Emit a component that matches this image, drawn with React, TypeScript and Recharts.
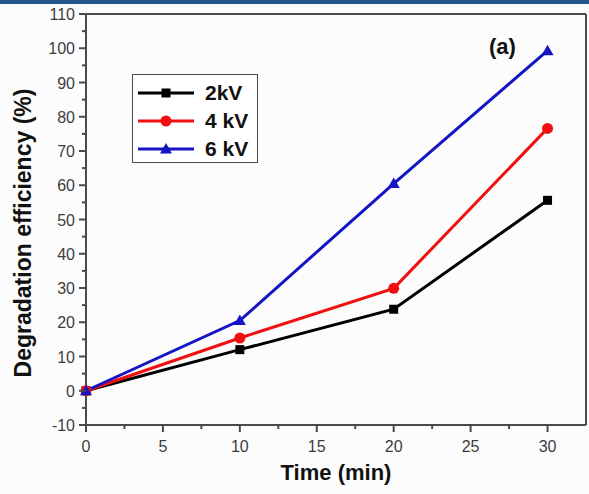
import React from "react";
import {
  LineChart,
  Line,
  XAxis,
  YAxis,
  ReferenceLine,
} from "recharts";

// values
const times = [0, 10, 20, 30];
const kv2 = [0, 12, 23.8, 55.6];
const kv4 = [0, 15.4, 29.9, 76.6];
const kv6 = [0, 20.5, 60.5, 99.3];

const xTicks = [0, 2.5, 5, 7.5, 10, 12.5, 15, 17.5, 20, 22.5, 25, 27.5, 30];
const yTicks = [
  -10, -5, 0, 5, 10, 15, 20, 25, 30, 35, 40, 45, 50, 55, 60, 65, 70, 75, 80,
  85, 90, 95, 100, 105, 110,
];

const series = [
  { key: "kv2", name: "2kV", color: "#000000", shape: "square" },
  { key: "kv4", name: "4 kV", color: "#f01010", shape: "circle" },
  { key: "kv6", name: "6 kV", color: "#1414c4", shape: "triangle" },
];

const data = times.map((t, i) => ({ t, kv2: kv2[i], kv4: kv4[i], kv6: kv6[i] }));

const FONT = "'Liberation Sans', Arial, sans-serif";
const AXIS = "#4a4a4a";
const TICK_TEXT = "#3c3c3c";

function Marker({ cx, cy, shape, color }: any) {
  if (shape === "square")
    return <rect x={cx - 4.5} y={cy - 4.5} width={9} height={9} fill={color} />;
  if (shape === "circle") return <circle cx={cx} cy={cy} r={5.5} fill={color} />;
  return (
    <polygon
      points={`${cx},${cy - 6} ${cx + 6},${cy + 4.5} ${cx - 6},${cy + 4.5}`}
      fill={color}
    />
  );
}

const XTick = (props: any) => {
  const { x, y, payload } = props;
  const major = payload.value % 5 === 0;
  return (
    <g>
      <line x1={x} x2={x} y1={y} y2={y + (major ? 7 : 4)} stroke={AXIS} strokeWidth={2} />
      {major && (
        <text x={x} y={y + 27} textAnchor="middle" fontSize={16} fill={TICK_TEXT} fontFamily={FONT}>
          {payload.value}
        </text>
      )}
    </g>
  );
};

const YTick = (props: any) => {
  const { x, y, payload } = props;
  const major = payload.value % 10 === 0;
  return (
    <g>
      <line x1={x} x2={x - (major ? 7 : 4)} y1={y} y2={y} stroke={AXIS} strokeWidth={2} />
      {major && (
        <text x={x - 11} y={y + 6} textAnchor="end" fontSize={16} fill={TICK_TEXT} fontFamily={FONT}>
          {payload.value}
        </text>
      )}
    </g>
  );
};

// rotated y title, placed a bit below the plot's middle as in the reference
const YTitle = () => (
  <text
    x={23}
    y={233}
    transform="rotate(-90 23 233)"
    textAnchor="middle"
    dominantBaseline="central"
    fontFamily={FONT}
    fontWeight="bold"
    fontSize={23}
    fill="#111"
  >
    Degradation efficiency (%)
  </text>
);

function LegendBox() {
  return (
    <div
      style={{
        position: "absolute",
        left: 132,
        top: 74,
        width: 124,
        height: 87,
        border: `1.5px solid ${AXIS}`,
        background: "#ffffff",
        fontFamily: FONT,
        fontWeight: "bold",
        fontSize: 21,
        color: "#111",
      }}
    >
      {series.map((s, i) => (
        <div
          key={s.key}
          style={{ position: "absolute", left: 0, top: 4 + i * 28, height: 28, display: "flex", alignItems: "center" }}
        >
          <svg width={68} height={20}>
            <line x1={5} x2={61} y1={10} y2={10} stroke={s.color} strokeWidth={3} />
            <Marker cx={33} cy={10} shape={s.shape} color={s.color} />
          </svg>
          <span style={{ marginLeft: 4 }}>{s.name}</span>
        </div>
      ))}
    </div>
  );
}

export default function App() {
  return (
    <div
      style={{
        position: "absolute",
        left: 0,
        top: 0,
        width: 589,
        height: 494,
        background: "#fcfcfc",
        overflow: "hidden",
      }}
    >
      <div style={{ position: "absolute", left: 0, top: 0, width: 589, height: 4, background: "#24558e" }} />
      <LineChart
        width={589}
        height={494}
        data={data}
        margin={{ top: 14, right: 3, bottom: 0, left: 0 }}
      >
        <XAxis
          dataKey="t"
          type="number"
          domain={[0, 32.5]}
          ticks={xTicks}
          interval={0}
          height={69}
          tickSize={0}
          tickMargin={0}
          tickLine={false}
          tick={<XTick />}
          axisLine={{ stroke: AXIS, strokeWidth: 2 }}
          label={{
            value: "Time (min)",
            position: "insideBottom",
            offset: 14,
            style: { fontFamily: FONT, fontWeight: "bold", fontSize: 22, fill: "#111" },
          }}
        />
        <YAxis
          type="number"
          domain={[-10, 110]}
          ticks={yTicks}
          interval={0}
          width={86}
          tickSize={0}
          tickMargin={0}
          tickLine={false}
          tick={<YTick />}
          axisLine={{ stroke: AXIS, strokeWidth: 2 }}
          label={{ content: () => <YTitle /> }}
        />
        <ReferenceLine y={110} stroke={AXIS} strokeWidth={2} />
        <ReferenceLine x={32.5} stroke={AXIS} strokeWidth={2} />
        {series.map((s) => (
          <Line
            key={s.key}
            dataKey={s.key}
            name={s.name}
            stroke={s.color}
            strokeWidth={3}
            isAnimationActive={false}
            dot={(p: any) => (
              <Marker key={`${s.key}-${p.index}`} cx={p.cx} cy={p.cy} shape={s.shape} color={s.color} />
            )}
            activeDot={false}
          />
        ))}
      </LineChart>
      <LegendBox />
      <div
        style={{
          position: "absolute",
          left: 489,
          top: 34,
          fontFamily: FONT,
          fontWeight: "bold",
          fontSize: 22,
          color: "#111",
        }}
      >
        (a)
      </div>
    </div>
  );
}
